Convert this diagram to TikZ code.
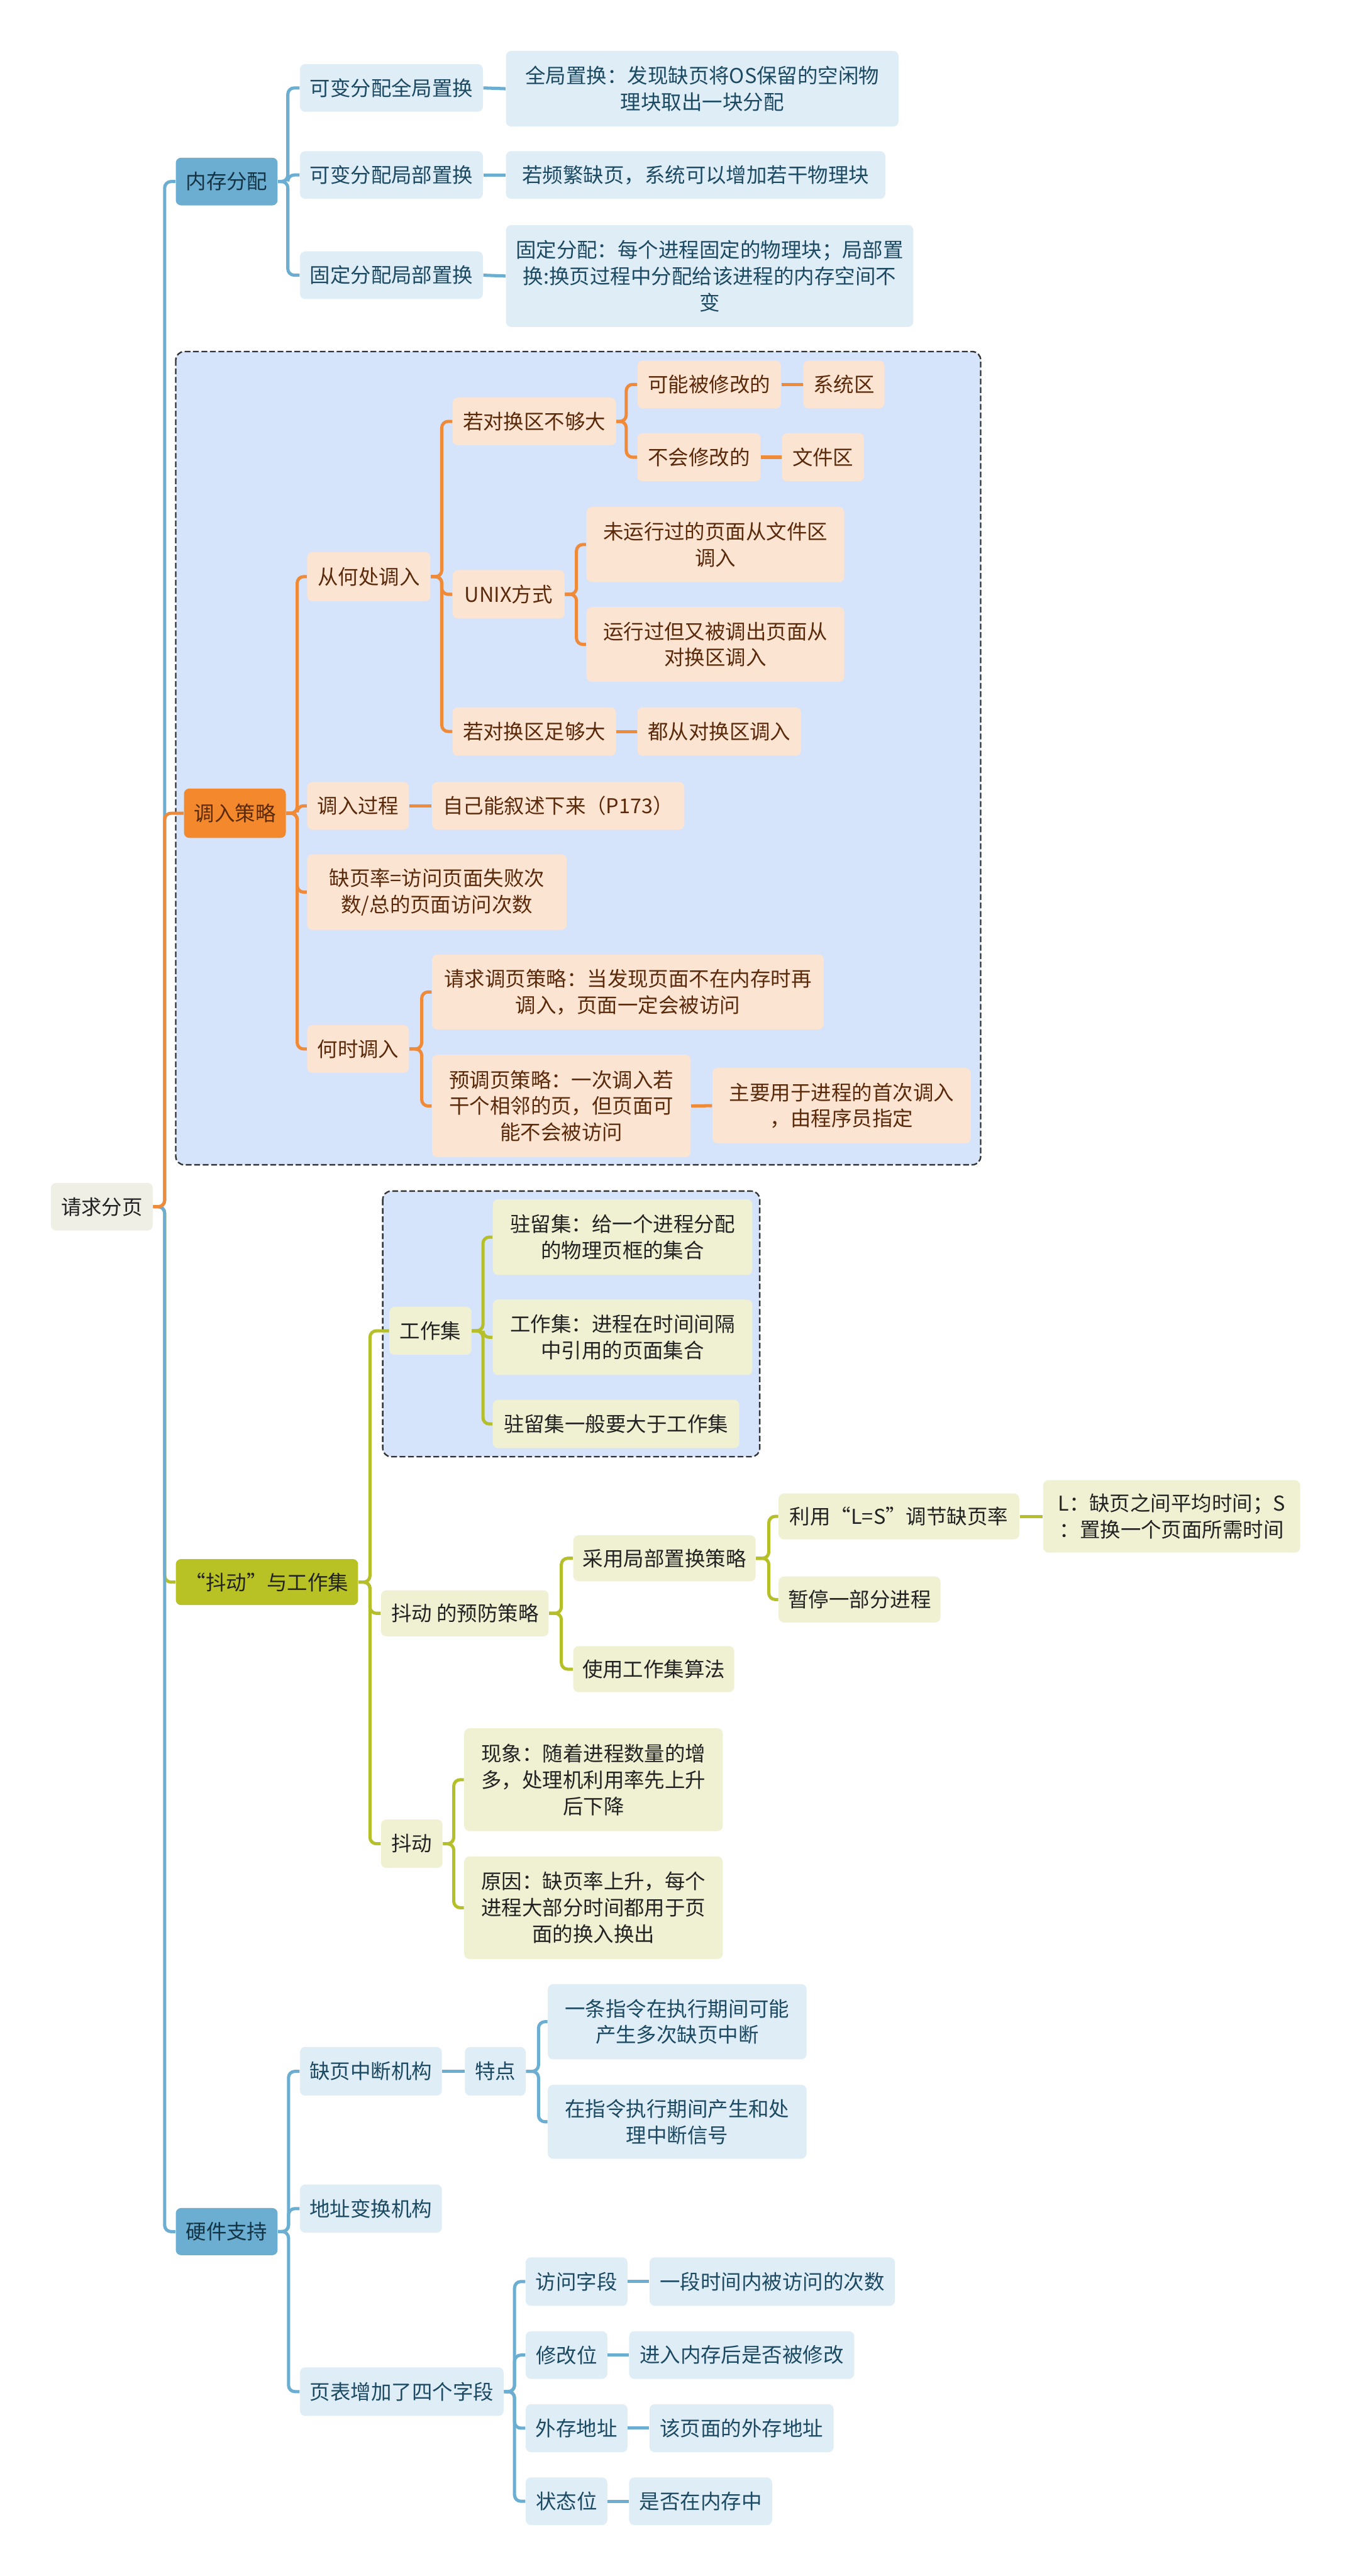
\documentclass[tikz,border=0pt]{standalone}
\usepackage{fontspec}
\setmainfont{Noto Sans CJK SC}
\definecolor{lvBlue}{HTML}{6BAED1}
\definecolor{bgBlue}{HTML}{DFEDF6}
\definecolor{txBlue}{HTML}{1C4A63}
\definecolor{lnBlue}{HTML}{6BAED1}
\definecolor{lvOrange}{HTML}{F3892C}
\definecolor{bgOrange}{HTML}{FCE4D3}
\definecolor{txBrown}{HTML}{5A2A0A}
\definecolor{lnOrange}{HTML}{EF8A38}
\definecolor{lvOlive}{HTML}{B8C225}
\definecolor{bgOlive}{HTML}{F0F1D3}
\definecolor{lnOlive}{HTML}{B5BF2A}
\definecolor{txDark}{HTML}{222222}
\definecolor{bgRoot}{HTML}{EFEFE6}
\definecolor{grpFill}{HTML}{D5E3FB}
\definecolor{grpLine}{HTML}{333333}
\tikzset{
  nbase/.style={rounded corners=1mm, inner sep=0pt, align=center, font=\fontsize{11}{14.2}\selectfont},
  bl1/.style={nbase, fill=lvBlue, text=txBlue!70!black},
  bl2/.style={nbase, fill=bgBlue, text=txBlue},
  or1/.style={nbase, fill=lvOrange, text=txBrown},
  or2/.style={nbase, fill=bgOrange, text=txBrown},
  ol1/.style={nbase, fill=lvOlive, text=txDark},
  ol2/.style={nbase, fill=bgOlive, text=txDark},
  rootbox/.style={nbase, fill=bgRoot, text=txDark},
  cBl/.style={draw=lnBlue, line width=0.6mm, rounded corners=1.2mm},
  cOr/.style={draw=lnOrange, line width=0.6mm, rounded corners=1.2mm},
  cOl/.style={draw=lnOlive, line width=0.6mm, rounded corners=1.2mm},
  grpbox/.style={fill=grpFill, draw=grpLine, line width=0.8pt, dash pattern=on 1.1mm off 0.5mm, rounded corners=1.6mm}
}
\newcommand\bx[7]{\node[#2, minimum width={0.3111mm*(#5-#3)}, minimum height={0.3111mm*(#6-#4)}] (#1) at ({(#3+#5)/2},{(#4+#6)/2}) {#7};}
\newcommand\lk[4]{\draw[#1] (#2.east) -- ++(#4,0) |- (#3.west);}
\newcommand\st[3]{\draw[#1] (#2.east) -- (#3.west);}
\begin{document}
\begin{tikzpicture}[x=0.3111mm,y=-0.3111mm]
\fill[white] (0,0) rectangle (823,1568);
\useasboundingbox (0,0) rectangle (823,1568);
% group boxes
\draw[grpbox] (107,214) rectangle (597,709);
\draw[grpbox] (233,725) rectangle (462.5,886.7);
% nodes
\bx{root}{rootbox}{31}{720}{93}{749}{请求分页}
\bx{nc}{bl1}{107}{96}{169}{125}{内存分配}
\bx{nc1}{bl2}{182.6}{39}{294}{68}{可变分配全局置换}
\bx{nc2}{bl2}{182.6}{92}{294}{121}{可变分配局部置换}
\bx{nc3}{bl2}{182.6}{153}{294}{182}{固定分配局部置换}
\bx{nc1a}{bl2}{308}{31}{547}{77}{全局置换：发现缺页将OS保留的空闲物\\理块取出一块分配}
\bx{nc2a}{bl2}{308}{92}{539}{121}{若频繁缺页，系统可以增加若干物理块}
\bx{nc3a}{bl2}{308}{137}{556}{199}{固定分配：每个进程固定的物理块；局部置\\换:换页过程中分配给该进程的内存空间不\\变}
%
\bx{dr}{or1}{112}{480}{174}{510}{调入策略}
\bx{dr1}{or2}{187}{336}{262}{366}{从何处调入}
\bx{dr2}{or2}{187}{476}{249}{505}{调入过程}
\bx{dr3}{or2}{187}{520}{345}{566}{缺页率=访问页面失败次\\数/总的页面访问次数}
\bx{dr4}{or2}{187}{624}{249}{653}{何时调入}
\bx{dr1a}{or2}{275.5}{242}{375}{271}{若对换区不够大}
\bx{dr1b}{or2}{275.5}{347}{343.7}{376.5}{UNIX方式}
\bx{dr1c}{or2}{275.5}{430.5}{375}{460}{若对换区足够大}
\bx{dr1a1}{or2}{388}{219.5}{475.5}{248.5}{可能被修改的}
\bx{dr1a1x}{or2}{489}{219.5}{538.5}{248.5}{系统区}
\bx{dr1a2}{or2}{388}{263.6}{463}{293}{不会修改的}
\bx{dr1a2x}{or2}{476}{263.6}{526}{293}{文件区}
\bx{dr1b1}{or2}{357}{308.6}{514}{354.3}{未运行过的页面从文件区\\调入}
\bx{dr1b2}{or2}{357}{369.5}{514}{415}{运行过但又被调出页面从\\对换区调入}
\bx{dr1c1}{or2}{388}{430.5}{487.7}{460}{都从对换区调入}
\bx{dr2a}{or2}{263}{476}{416.6}{505}{自己能叙述下来（P173）}
\bx{dr4a}{or2}{263}{581}{501.5}{626.6}{请求调页策略：当发现页面不在内存时再\\调入，页面一定会被访问}
\bx{dr4b}{or2}{263}{642}{420.5}{704.4}{预调页策略：一次调入若\\干个相邻的页，但页面可\\能不会被访问}
\bx{dr4bx}{or2}{433.7}{650}{591}{696}{主要用于进程的首次调入\\，由程序员指定}
%
\bx{jd}{ol1}{107}{949}{218}{977}{“抖动”与工作集}
\bx{jd1}{ol2}{237}{795.5}{287}{824.6}{工作集}
\bx{jd1a}{ol2}{300}{730}{458}{776}{驻留集：给一个进程分配\\的物理页框的集合}
\bx{jd1b}{ol2}{300}{791}{458}{837}{工作集：进程在时间间隔\\中引用的页面集合}
\bx{jd1c}{ol2}{300}{852}{450}{881.5}{驻留集一般要大于工作集}
\bx{jd2}{ol2}{232}{968}{334}{996}{抖动 的预防策略}
\bx{jd2a}{ol2}{349}{934.5}{460}{962.5}{采用局部置换策略}
\bx{jd2b}{ol2}{349}{1002}{447}{1030}{使用工作集算法}
\bx{jd2a1}{ol2}{474}{909}{620.5}{937}{利用“L=S”调节缺页率}
\bx{jd2a1x}{ol2}{635}{901}{791.5}{945}{L：缺页之间平均时间；S\\：置换一个页面所需时间}
\bx{jd2a2}{ol2}{474}{959.6}{572.5}{987.6}{暂停一部分进程}
\bx{jd3}{ol2}{232}{1107.5}{269.4}{1137}{抖动}
\bx{jd3a}{ol2}{282.6}{1052}{440}{1114.6}{现象：随着进程数量的增\\多，处理机利用率先上升\\后下降}
\bx{jd3b}{ol2}{282.6}{1130}{440}{1192.4}{原因：缺页率上升，每个\\进程大部分时间都用于页\\面的换入换出}
%
\bx{hw}{bl1}{107}{1344}{169}{1372.7}{硬件支持}
\bx{hw1}{bl2}{182.6}{1246}{269}{1275.6}{缺页中断机构}
\bx{hw1x}{bl2}{283}{1246}{320}{1275.6}{特点}
\bx{hw1x1}{bl2}{333.5}{1207.7}{491}{1253.5}{一条指令在执行期间可能\\产生多次缺页中断}
\bx{hw1x2}{bl2}{333.5}{1269}{491}{1314}{在指令执行期间产生和处\\理中断信号}
\bx{hw2}{bl2}{182.6}{1329.7}{269}{1359}{地址变换机构}
\bx{hw3}{bl2}{182.6}{1441}{306.6}{1470.5}{页表增加了四个字段}
\bx{hw3a}{bl2}{320}{1374}{382}{1403.5}{访问字段}
\bx{hw3ax}{bl2}{395.4}{1374}{544.8}{1403.5}{一段时间内被访问的次数}
\bx{hw3b}{bl2}{320}{1419}{369.7}{1448}{修改位}
\bx{hw3bx}{bl2}{383}{1419}{520}{1448}{进入内存后是否被修改}
\bx{hw3c}{bl2}{320}{1463.4}{382}{1492.6}{外存地址}
\bx{hw3cx}{bl2}{395.4}{1463.4}{507.5}{1492.6}{该页面的外存地址}
\bx{hw3d}{bl2}{320}{1508}{369.7}{1537}{状态位}
\bx{hw3dx}{bl2}{383}{1508}{470}{1537}{是否在内存中}
% connectors
\begin{scope}[on background layer/.style={}]
\end{scope}
\lk{cOl}{root}{jd}{7}
\lk{cBl}{root}{nc}{7}
\lk{cBl}{root}{hw}{7}
\lk{cOr}{root}{dr}{7}
\lk{cBl}{nc}{nc1}{6}
\lk{cBl}{nc}{nc2}{6}
\lk{cBl}{nc}{nc3}{6}
\st{cBl}{nc1}{nc1a}
\st{cBl}{nc2}{nc2a}
\st{cBl}{nc3}{nc3a}
\lk{cOr}{dr}{dr1}{6.7}
\lk{cOr}{dr}{dr2}{6.7}
\lk{cOr}{dr}{dr3}{6.7}
\lk{cOr}{dr}{dr4}{6.7}
\lk{cOr}{dr1}{dr1a}{6.7}
\lk{cOr}{dr1}{dr1b}{6.7}
\lk{cOr}{dr1}{dr1c}{6.7}
\lk{cOr}{dr1a}{dr1a1}{6}
\lk{cOr}{dr1a}{dr1a2}{6}
\st{cOr}{dr1a1}{dr1a1x}
\st{cOr}{dr1a2}{dr1a2x}
\lk{cOr}{dr1b}{dr1b1}{7}
\lk{cOr}{dr1b}{dr1b2}{7}
\st{cOr}{dr1c}{dr1c1}
\st{cOr}{dr2}{dr2a}
\lk{cOr}{dr4}{dr4a}{7.5}
\lk{cOr}{dr4}{dr4b}{7.5}
\st{cOr}{dr4b}{dr4bx}
\lk{cOl}{jd}{jd1}{7}
\lk{cOl}{jd}{jd2}{7}
\lk{cOl}{jd}{jd3}{7}
\lk{cOl}{jd1}{jd1a}{6.8}
\lk{cOl}{jd1}{jd1b}{6.8}
\lk{cOl}{jd1}{jd1c}{6.8}
\lk{cOl}{jd2}{jd2a}{7.5}
\lk{cOl}{jd2}{jd2b}{7.5}
\lk{cOl}{jd2a}{jd2a1}{7.8}
\lk{cOl}{jd2a}{jd2a2}{7.8}
\st{cOl}{jd2a1}{jd2a1x}
\lk{cOl}{jd3}{jd3a}{6.6}
\lk{cOl}{jd3}{jd3b}{6.6}
\lk{cBl}{hw}{hw1}{6.4}
\lk{cBl}{hw}{hw2}{6.4}
\lk{cBl}{hw}{hw3}{6.4}
\st{cBl}{hw1}{hw1x}
\lk{cBl}{hw1x}{hw1x1}{7.6}
\lk{cBl}{hw1x}{hw1x2}{7.6}
\lk{cBl}{hw3}{hw3a}{6.4}
\lk{cBl}{hw3}{hw3b}{6.4}
\lk{cBl}{hw3}{hw3c}{6.4}
\lk{cBl}{hw3}{hw3d}{6.4}
\st{cBl}{hw3a}{hw3ax}
\st{cBl}{hw3b}{hw3bx}
\st{cBl}{hw3c}{hw3cx}
\st{cBl}{hw3d}{hw3dx}
\end{tikzpicture}
\end{document}
